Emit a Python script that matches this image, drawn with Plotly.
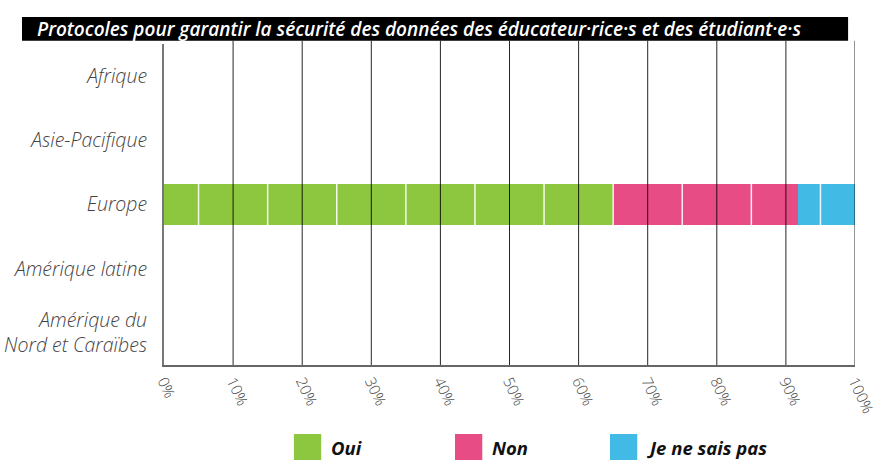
import plotly.graph_objects as go

# Regions (top to bottom) and the share of answers per option, in %
regions = ["Afrique", "Asie-Pacifique", "Europe", "Amérique latine",
           "Amérique du<br>Nord et Caraïbes"]
oui = [None, None, 65.0, None, None]
non = [None, None, 26.7, None, None]
ne_sais_pas = [None, None, 8.3, None, None]

series = [("Oui", oui, "#8DC63F"),
          ("Non", non, "#E84C85"),
          ("Je ne sais pas", ne_sais_pas, "#41BAE6")]

title_text = ("Protocoles pour garantir la sécurité des données "
              "des éducateur·rice·s et des étudiant·e·s")
tick_vals = [i / 100 for i in range(0, 101, 10)]
tick_text = [f"{i}%" for i in range(0, 101, 10)]

BAR_W = 0.64
FONT = "Open Sans"

fig = go.Figure()
for name, vals, color in series:
    fig.add_trace(go.Bar(
        y=regions, x=[v / 100 if v is not None else None for v in vals],
        orientation="h", name=name, width=BAR_W,
        marker=dict(color=color, line=dict(width=0)),
        showlegend=False, hoverinfo="x+name",
    ))

shapes = []
# black vertical gridlines drawn over the bars
for t in tick_vals[1:]:
    shapes.append(dict(type="line", xref="x", yref="paper", x0=t, x1=t,
                       y0=0, y1=1.01, layer="above",
                       line=dict(color="rgba(0,0,0,0.85)", width=1)))
# thin white separators across the filled bars at the half-decades
for i, r in enumerate(regions):
    total = sum(vals[i] for _, vals, _ in series if vals[i] is not None)
    if total == 0:
        continue
    for k in range(5, 100, 10):
        if k < total:
            shapes.append(dict(type="line", xref="x", yref="y",
                               x0=k / 100, x1=k / 100,
                               y0=i - BAR_W / 2, y1=i + BAR_W / 2,
                               layer="above",
                               line=dict(color="rgba(255,255,255,0.9)",
                                         width=1.5)))

# title banner
shapes.append(dict(type="rect", xref="paper", yref="paper",
                   x0=-0.2055, x1=0.99, y0=1.0103, y1=1.084,
                   fillcolor="black", line=dict(width=0), layer="above"))

annotations = [dict(text=f"<i>{title_text}</i>", xref="paper",
                    yref="paper", x=-0.187, y=1.047, xanchor="left",
                    yanchor="middle", showarrow=False,
                    font=dict(family=FONT, size=19, color="white",
                              weight=600))]

# custom legend with large colour squares
legend_x = [0.188, 0.4211, 0.6454]
for (name, _, color), lx in zip(series, legend_x):
    shapes.append(dict(type="rect", xref="paper", yref="paper",
                       x0=lx, x1=lx + 0.0395, y0=-0.296, y1=-0.215,
                       fillcolor=color, line=dict(width=0)))
    annotations.append(dict(text=f"<i>{name}</i>", xref="paper",
                            yref="paper", x=lx + 0.051, y=-0.2555,
                            xanchor="left", yanchor="middle",
                            showarrow=False,
                            font=dict(family=FONT, size=18.5, color="#111",
                                      weight=700)))

fig.update_layout(
    width=880, height=461,
    margin=dict(l=164, r=25, t=44, b=96),
    paper_bgcolor="white", plot_bgcolor="white",
    barmode="stack",
    shapes=shapes, annotations=annotations,
    showlegend=False,
    xaxis=dict(range=[0, 1], tickvals=tick_vals, ticktext=tick_text,
               tickangle=65, showgrid=False, zeroline=False,
               showline=True, linecolor="#666", linewidth=1.5,
               ticks="", ticklabeloverflow="allow", automargin=False,
               tickfont=dict(family=FONT, size=15, color="#444",
                             weight=300),
               fixedrange=True),
    yaxis=dict(categoryorder="array", categoryarray=regions,
               autorange="reversed", showgrid=False, zeroline=False,
               showline=True, linecolor="#777", linewidth=2,
               ticks="", ticklabelstandoff=11, automargin=False,
               tickfont=dict(family=FONT, size=19.5, color="#444",
                             weight=300),
               fixedrange=True),
)

# italic category labels
fig.update_yaxes(ticktext=[f"<i>{r}</i>" for r in regions],
                 tickvals=regions)

fig.write_html("out.html")
